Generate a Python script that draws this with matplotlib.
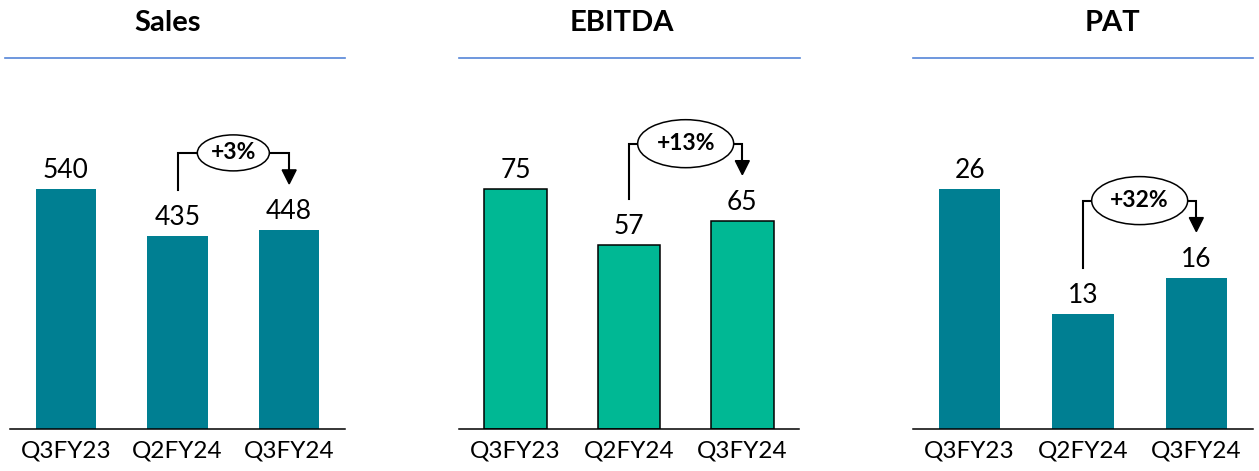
import matplotlib
matplotlib.use('Agg')
import matplotlib.pyplot as plt
from matplotlib.patches import Ellipse, Polygon
from matplotlib.lines import Line2D

plt.rcParams['font.family'] = ['Lato', 'DejaVu Sans']

# data
categories = ['Q3FY23', 'Q2FY24', 'Q3FY24']
titles = ['Sales', 'EBITDA', 'PAT']
sales = [540, 435, 448]
ebitda = [75, 57.6, 65.1]
pat = [26, 12.5, 16.4]
sales_labels = ['540', '435', '448']
ebitda_labels = ['75', '57', '65']
pat_labels = ['26', '13', '16']
growth = ['+3%', '+13%', '+32%']

W, H = 1259, 471
fig = plt.figure(figsize=(W / 100, H / 100), dpi=100)

TEAL = '#007F92'
GREEN = '#00B894'

# (values, labels, colour, edge, axes left px, axes width px, title x px, line x0, line x1)
panels = [
    (sales, sales_labels, TEAL, None, 10, 335, 168, 5, 345),
    (ebitda, ebitda_labels, GREEN, 'black', 459, 340, 622, 459, 800),
    (pat, pat_labels, TEAL, None, 913, 340, 1112, 913, 1253),
]

AX_BOTTOM = 429
AX_TOP = 70
AX_H = AX_BOTTOM - AX_TOP
MAX_BAR_PX = 240

for k, (vals, labs, col, edge, left, width, tx, lx0, lx1) in enumerate(panels):
    ax = fig.add_axes([left / W, 1 - AX_BOTTOM / H, width / W, AX_H / H])
    ymax = max(vals) * AX_H / MAX_BAR_PX
    ax.set_xlim(-0.5, 2.5)
    ax.set_ylim(0, ymax)
    x = range(len(categories))
    if edge:
        ax.bar(x, vals, width=0.55, color=col, edgecolor=edge, linewidth=1.1, zorder=2)
    else:
        ax.bar(x, vals, width=0.54, color=col, zorder=2)
    for s in ['top', 'right', 'left']:
        ax.spines[s].set_visible(False)
    ax.spines['bottom'].set_linewidth(1.1)
    ax.spines['bottom'].set_color('black')
    ax.set_yticks([])
    ax.set_xticks(list(x))
    ax.set_xticklabels(categories, fontsize=17.5)
    ax.tick_params(axis='x', length=0, pad=8)

    for i, v in enumerate(vals):
        ax.annotate(labs[i], (i, v), xytext=(0, 8), textcoords='offset points',
                    ha='center', va='baseline', fontsize=19)

    # growth bracket between the last two bars
    py = ymax / AX_H            # data units per pixel (y)
    px = 3.0 / width            # data units per pixel (x)
    start = vals[1] + 46 * py
    tip = vals[2] + 46 * py
    by = max(vals[1], vals[2]) + 77 * py
    n = len(growth[k])
    ew, eh = 24 * n * px, 12 * n * py
    th, hw = 14 * py, 7 * px
    ax.plot([1, 1, 1.5 - ew / 2], [start, by, by], color='black', lw=1.5,
            clip_on=False, solid_joinstyle='miter')
    ax.plot([1.5 + ew / 2, 2, 2], [by, by, tip + th], color='black', lw=1.5,
            clip_on=False, solid_joinstyle='miter')
    ax.add_patch(Polygon([(2 - hw, tip + th), (2 + hw, tip + th), (2, tip)],
                         closed=True, color='black', clip_on=False))
    ax.add_patch(Ellipse((1.5, by), ew, eh, facecolor='white', edgecolor='black',
                         lw=1.1, clip_on=False, zorder=3))
    ax.text(1.5, by, growth[k], ha='center', va='center', fontsize=16.5,
            fontweight='bold', zorder=4)

    fig.text(tx / W, 1 - 23 / H, titles[k], ha='center', va='center',
             fontsize=21, fontweight='bold')
    fig.add_artist(Line2D([lx0 / W, lx1 / W], [1 - 58 / H, 1 - 58 / H],
                          color='#5585D8', lw=1.2))

plt.savefig('out.png', dpi=100)
